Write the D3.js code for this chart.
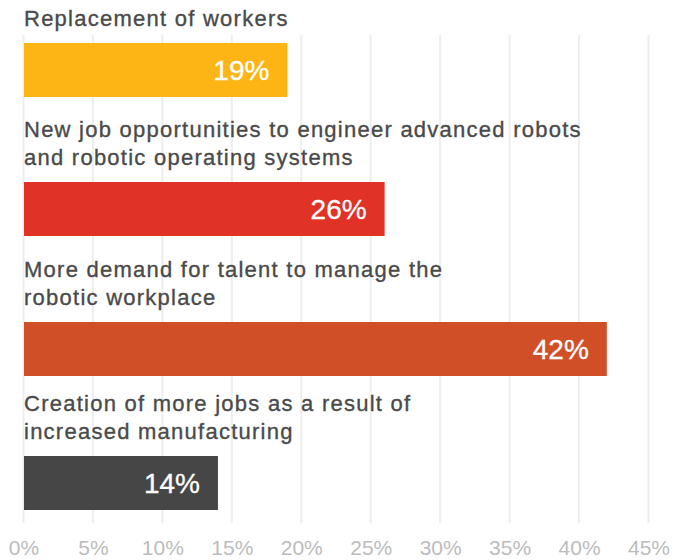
<!DOCTYPE html>
<html>
<head>
<meta charset="utf-8">
<script src="https://cdn.jsdelivr.net/npm/d3@7"></script>
<style>
html,body{margin:0;padding:0;background:#fff;}
svg{display:block;font-family:"Liberation Sans",Arial,Helvetica,sans-serif;}
</style>
</head>
<body>
<svg id="chart" width="688" height="560"></svg>
<script>
const categories = [
  ["Replacement of workers"],
  ["New job opportunities to engineer advanced robots", "and robotic operating systems"],
  ["More demand for talent to manage the", "robotic workplace"],
  ["Creation of more jobs as a result of", "increased manufacturing"]
];
const values = [19, 26, 42, 14];
const colors = ["#FDB515", "#E03226", "#D14F27", "#464646"];
const tickValues = [0, 5, 10, 15, 20, 25, 30, 35, 40, 45];

const svg = d3.select("#chart");
const x = d3.scaleLinear().domain([0, 45]).range([23.5, 648.5]);
const barTops = [43, 182, 322, 456];
const barH = 54;

// gridlines
svg.append("g").selectAll("line").data(tickValues).join("line")
  .attr("x1", d => x(d)).attr("x2", d => x(d))
  .attr("y1", 35).attr("y2", 523)
  .attr("stroke", "#eeeeee").attr("stroke-width", 2);

// axis labels
const axis = d3.axisBottom(x).tickValues(tickValues).tickFormat(d => d + "%").tickSize(0).tickPadding(0);
const ag = svg.append("g").attr("transform", "translate(0,540)").call(axis);
ag.select(".domain").remove();
ag.selectAll("text").attr("fill", "#bcbcbc").attr("font-size", 21)
  .attr("font-family", "'Liberation Sans',Arial,sans-serif").attr("dy", "0.71em");

const g = svg.append("g");
categories.forEach((lines, i) => {
  const top = barTops[i];
  const lh = 28;
  const t = g.append("text").attr("fill", "#4a4a4a").attr("font-size", 22)
    .attr("letter-spacing", 1.25)
    .attr("stroke", "#4a4a4a").attr("stroke-width", 0.35);
  lines.forEach((ln, j) => {
    t.append("tspan").attr("x", 24).attr("y", top - 17 - (lines.length - 1 - j) * lh).text(ln);
  });
  g.append("rect").attr("x", x(0) + 0.5).attr("y", top)
    .attr("width", x(values[i]) - x(0) - 0.5).attr("height", barH)
    .attr("fill", colors[i]);
  g.append("text").attr("x", x(values[i]) - 18).attr("y", top + barH / 2)
    .attr("dy", "0.36em").attr("text-anchor", "end")
    .attr("fill", "#fff").attr("stroke", "#fff").attr("stroke-width", 0.3)
    .attr("font-size", 28).text(values[i] + "%");
});
</script>
</body>
</html>
